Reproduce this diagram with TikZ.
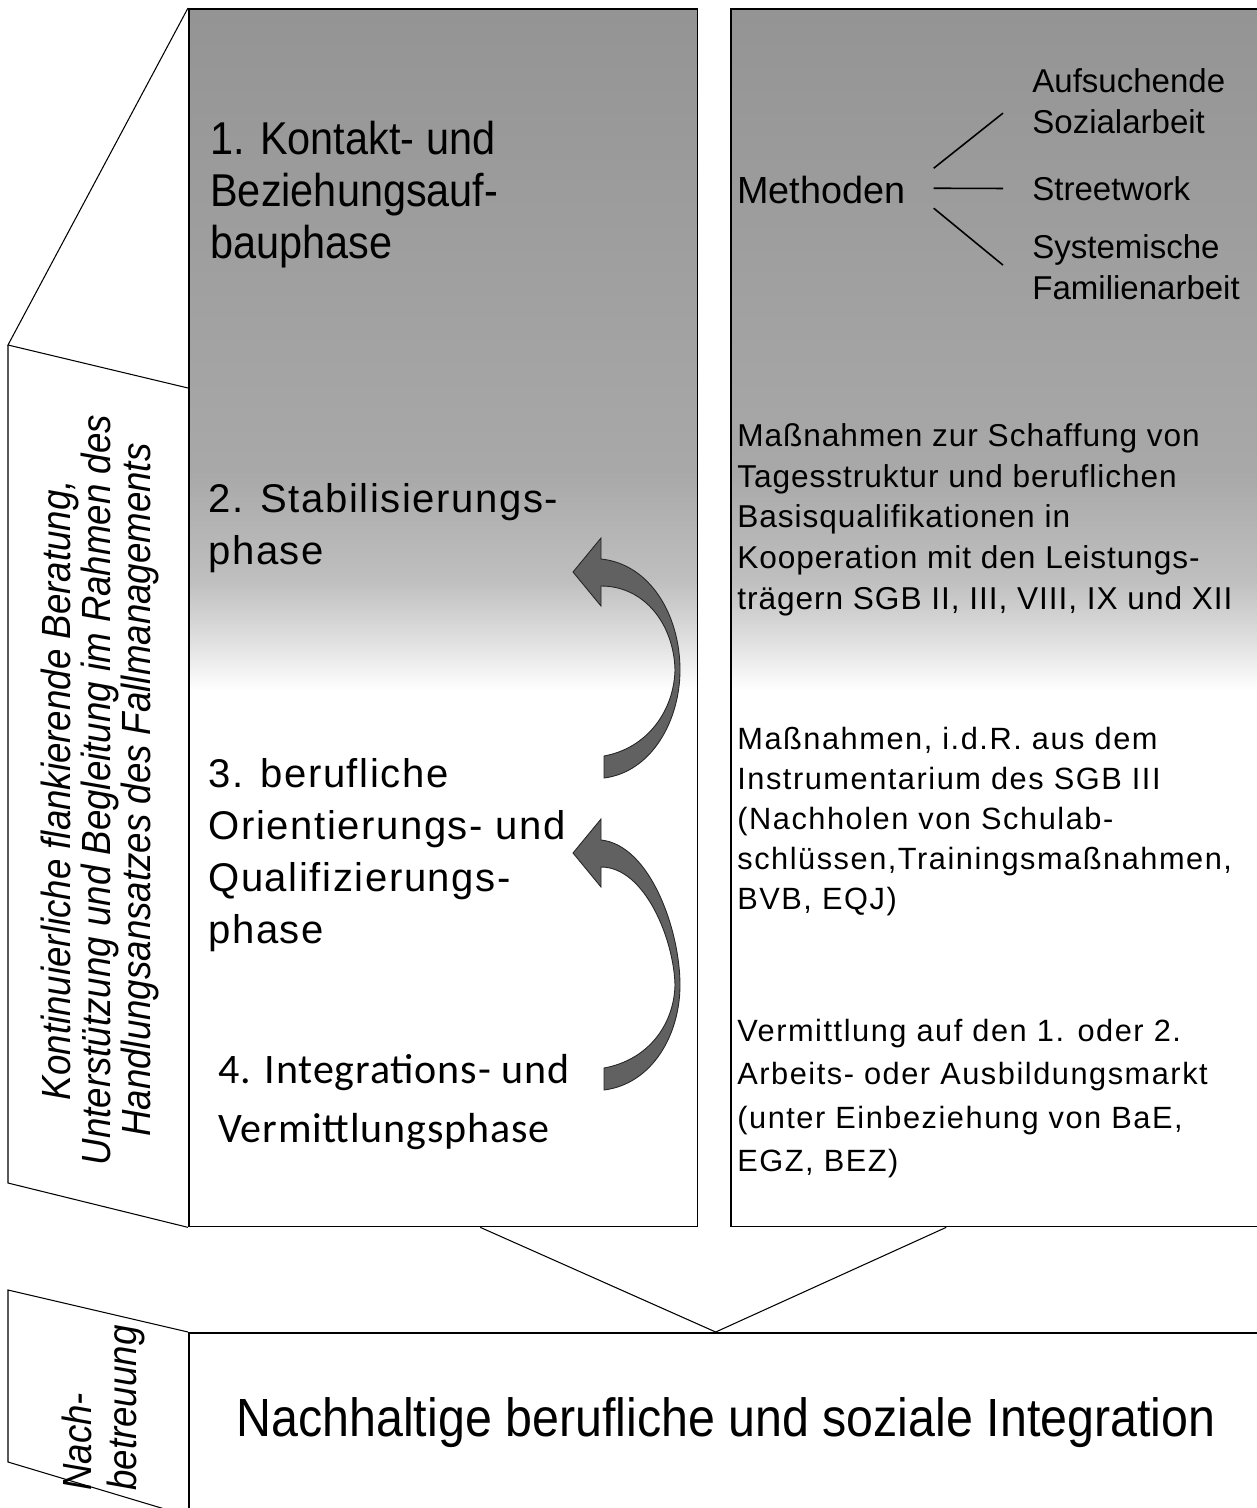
\documentclass[tikz,border=0pt]{standalone}
\usepackage{fontspec}
\setmainfont{Liberation Sans}
\newfontfamily\condfont[FakeStretch=0.9]{Liberation Sans}
\newfontfamily\widefont[LetterSpace=4]{Liberation Sans}
\newfontfamily\blockfont[LetterSpace=3]{Liberation Sans}
\newfontfamily\spacedfont[LetterSpace=5]{Liberation Sans}
\newfontfamily\calfont[LetterSpace=2]{Carlito}
\usepackage{tikz}
\usetikzlibrary{positioning}
\colorlet{colorPanel}{black!42}
\colorlet{colorArrow}{black!62}
\pgfdeclareverticalshading{phasefade}{100bp}{color(0bp)=(white); color(47bp)=(white); color(49bp)=(black!12); color(51.5bp)=(black!25); color(56bp)=(black!34); color(75bp)=(black!42); color(100bp)=(black!42)}
\tikzset{colbox/.style={draw, line width=0.9pt, anchor=north west, inner sep=0pt, shading=phasefade},
basebox/.style={draw, line width=0.9pt, anchor=north west, inner sep=0pt},
phasetext/.style={anchor=north west, align=left, inner sep=0pt},
sidetext/.style={rotate=90, inner sep=0pt},
thinline/.style={line width=0.6pt},
methodline/.style={line width=0.9pt},
curvearrow/.style={fill=colorArrow, draw=black!85, line width=0.5pt}}

\begin{document}
\begin{tikzpicture}[x=0.02cm, y=-0.02cm]
\useasboundingbox (0,0) rectangle (1257,1508);
\node[colbox, minimum width=10.18cm, minimum height=24.36cm] (colL) at (188,8) {};
\node[colbox, minimum width=10.9cm, minimum height=24.36cm] (colR) at (730,8) {};
\node[basebox, minimum width=21.8cm, minimum height=4cm] (base) at (188,1332) {};
\draw[thinline] (colL.north west) -- (8,345) -- (188,388);
\draw[thinline] (8,345) -- (8,1183) -- (colL.south west);
\draw[thinline] (base.north west) -- (8,1290) -- (8,1462) -- (188,1516);
\draw[thinline] ([shift={(37,0)}]colL.south) -- ([shift={(-18,0)}]base.north) -- ([shift={(-57,0)}]colR.south);
\node[sidetext, align=center, font=\condfont\itshape\fontsize{23.2}{22.8}\selectfont] (support) at (100,790) {Kontinuierliche flankierende Beratung,\\Unterstützung und Begleitung im Rahmen des\\Handlungsansatzes des Fallmanagements};
\node[sidetext, align=left, anchor=west, font=\condfont\itshape\fontsize{23.2}{25.6}\selectfont] (after) at (103,1491) {Nach-\\betreuung};
\node[phasetext, font=\condfont\fontsize{26.2}{29.6}\selectfont] (ph1) at (210,121) {1. Kontakt- und\\Beziehungsauf-\\bauphase};
\node[phasetext, font=\widefont\fontsize{22.8}{29.6}\selectfont] (ph2) at (208,483) {2. Stabilisierungs-\\phase};
\node[phasetext, font=\widefont\fontsize{22.8}{29.6}\selectfont] (ph3) at (208,758) {3. berufliche\\Orientierungs- und\\Qualifizierungs-\\phase};
\node[phasetext, font=\calfont\fontsize{23.9}{33.6}\selectfont] (ph4) at (218,1054) {4. Integrations- und\\Vermittlungsphase};
\node[phasetext, font=\fontsize{21.5}{25}\selectfont] (meth) at (737,176) {Methoden};
\node[phasetext, font=\fontsize{18.8}{23.5}\selectfont] (auf) at (1032,68) {Aufsuchende\\Sozialarbeit};
\node[phasetext, font=\fontsize{18.8}{23.5}\selectfont] (street) at (1032,176) {Streetwork};
\node[phasetext, font=\fontsize{18.8}{23.5}\selectfont] (sys) at (1032,234) {Systemische\\Familienarbeit};
\draw[methodline] ([shift={(28,-22)}]meth.east) -- ([shift={(-29,12)}]auf.west);
\draw[methodline] ([shift={(28,-2)}]meth.east) -- ([shift={(-29,0)}]street.west);
\draw[methodline] ([shift={(28,18)}]meth.east) -- ([shift={(-29,-2)}]sys.west);
\node[phasetext, font=\blockfont\fontsize{18}{23.2}\selectfont] (measure1) at (737,423) {Maßnahmen zur Schaffung von\\Tagesstruktur und beruflichen\\Basisqualifikationen in\\Kooperation mit den Leistungs-\\trägern SGB II, III, VIII, IX und XII};
\node[phasetext, font=\spacedfont\fontsize{17.5}{22.8}\selectfont] (measure2) at (737,727) {Maßnahmen, i.d.R. aus dem\\Instrumentarium des SGB III\\(Nachholen von Schulab-\\schlüssen,Trainingsmaßnahmen,\\BVB, EQJ)};
\node[phasetext, font=\spacedfont\fontsize{17.5}{24.6}\selectfont] (measure3) at (737,1019) {Vermittlung auf den 1. oder 2.\\Arbeits- oder Ausbildungsmarkt\\(unter Einbeziehung von BaE,\\EGZ, BEZ)};
\node[anchor=north, inner sep=0pt, font=\condfont\fontsize{30.6}{34}\selectfont] (goal) at (726,1397) {Nachhaltige berufliche und soziale Integration};
\filldraw[curvearrow] (573,572) -- (601,538) -- (601,559) .. controls (650,564) and (680,615) .. (680,670) .. controls (680,720) and (652,772) .. (604,778) -- (604,756) .. controls (648,748) and (674,710) .. (675,670) .. controls (674,625) and (645,586) .. (601,586) -- (601,606) -- cycle;
\filldraw[curvearrow] (573,853) -- (601,819) -- (601,840) .. controls (650,845) and (680,930) .. (680,985) .. controls (680,1035) and (652,1084) .. (604,1090) -- (604,1068) .. controls (648,1060) and (674,1025) .. (675,985) .. controls (674,940) and (645,867) .. (601,867) -- (601,887) -- cycle;
\end{tikzpicture}
\end{document}
